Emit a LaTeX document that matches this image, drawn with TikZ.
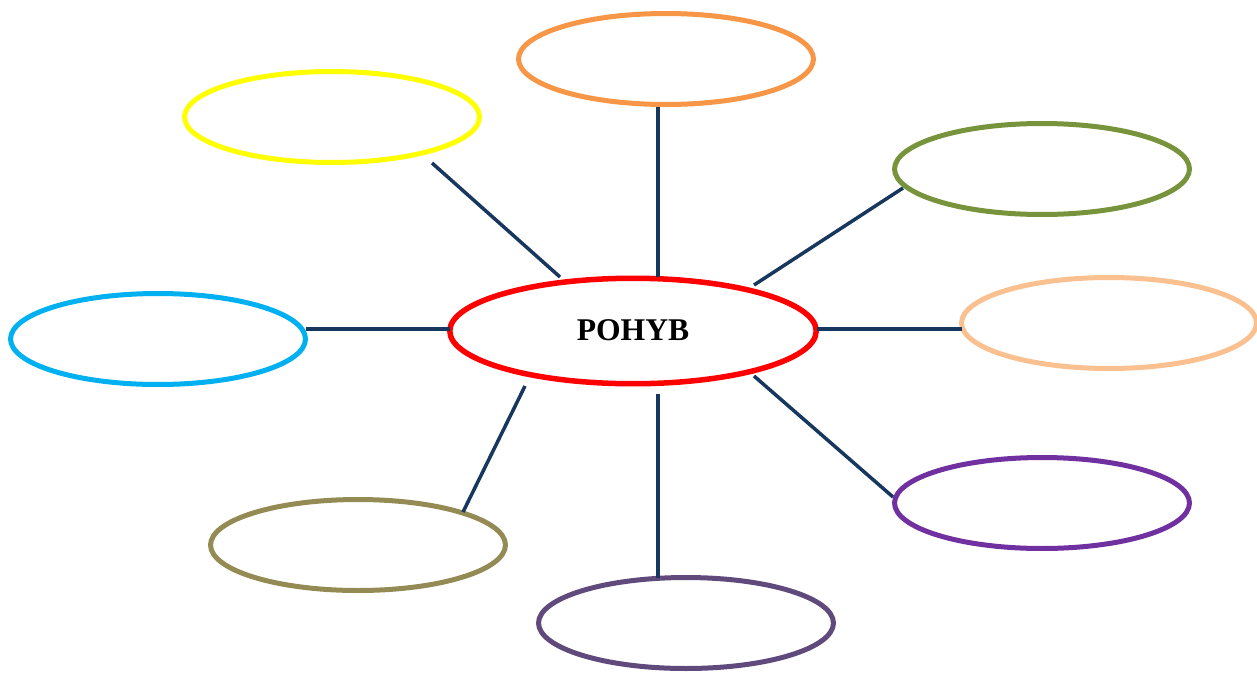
\documentclass[tikz,border=0pt]{standalone}
\usepackage{fontspec}
\setmainfont{Liberation Serif}
\usetikzlibrary{shapes.geometric}
\definecolor{cOrange}{HTML}{F79646}
\definecolor{cYellow}{HTML}{FFFF00}
\definecolor{cGreen}{HTML}{77933C}
\definecolor{cCyan}{HTML}{00B0F0}
\definecolor{cPeach}{HTML}{FAC090}
\definecolor{cPurple}{HTML}{7030A0}
\definecolor{cOlive}{HTML}{948A54}
\definecolor{cGrape}{HTML}{604A7B}
\definecolor{cLine}{HTML}{17375E}
\begin{document}
\begin{tikzpicture}[x=0.02cm,y=-0.02cm,
  bubble/.style={ellipse,draw,line width=0.1cm,minimum width=5.9cm,minimum height=1.82cm,inner sep=0pt},
  link/.style={draw=cLine,line width=0.07cm}]
\useasboundingbox (0,0) rectangle (1257,673);
\node[bubble,draw=red,line width=0.11cm,minimum width=7.33cm,minimum height=2.11cm,
  font=\fontsize{18}{21}\selectfont\bfseries] (c) at (633,331) {\raisebox{0.8pt}{POHYB}};
\node[bubble,draw=cOrange] (o) at (666,59) {};
\node[bubble,draw=cYellow] (y) at (332,117) {};
\node[bubble,draw=cGreen] (g) at (1042,169) {};
\node[bubble,draw=cCyan] (b) at (158,339) {};
\node[bubble,draw=cPeach] (p) at (1109,323) {};
\node[bubble,draw=cPurple] (v) at (1042,503) {};
\node[bubble,draw=cOlive] (l) at (358,545) {};
\node[bubble,draw=cGrape] (q) at (686,623) {};
\coordinate (o1) at (658,107); \coordinate (o2) at (658,277);
\coordinate (y1) at (432,163); \coordinate (y2) at (560,277);
\coordinate (g1) at (903,188); \coordinate (g2) at (754,285);
\coordinate (b1) at (306,329); \coordinate (b2) at (450,329);
\coordinate (p1) at (962,329); \coordinate (p2) at (817,329);
\coordinate (l1) at (463,512); \coordinate (l2) at (525,386);
\coordinate (q1) at (658,578); \coordinate (q2) at (658,394);
\coordinate (v1) at (893,497); \coordinate (v2) at (754,376);
\draw[link] (o1) -- (o2);
\draw[link] (y1) -- (y2);
\draw[link] (g1) -- (g2);
\draw[link] (b1) -- (b2);
\draw[link] (p1) -- (p2);
\draw[link] (l1) -- (l2);
\draw[link] (q1) -- (q2);
\draw[link] (v1) -- (v2);
\end{tikzpicture}
\end{document}
